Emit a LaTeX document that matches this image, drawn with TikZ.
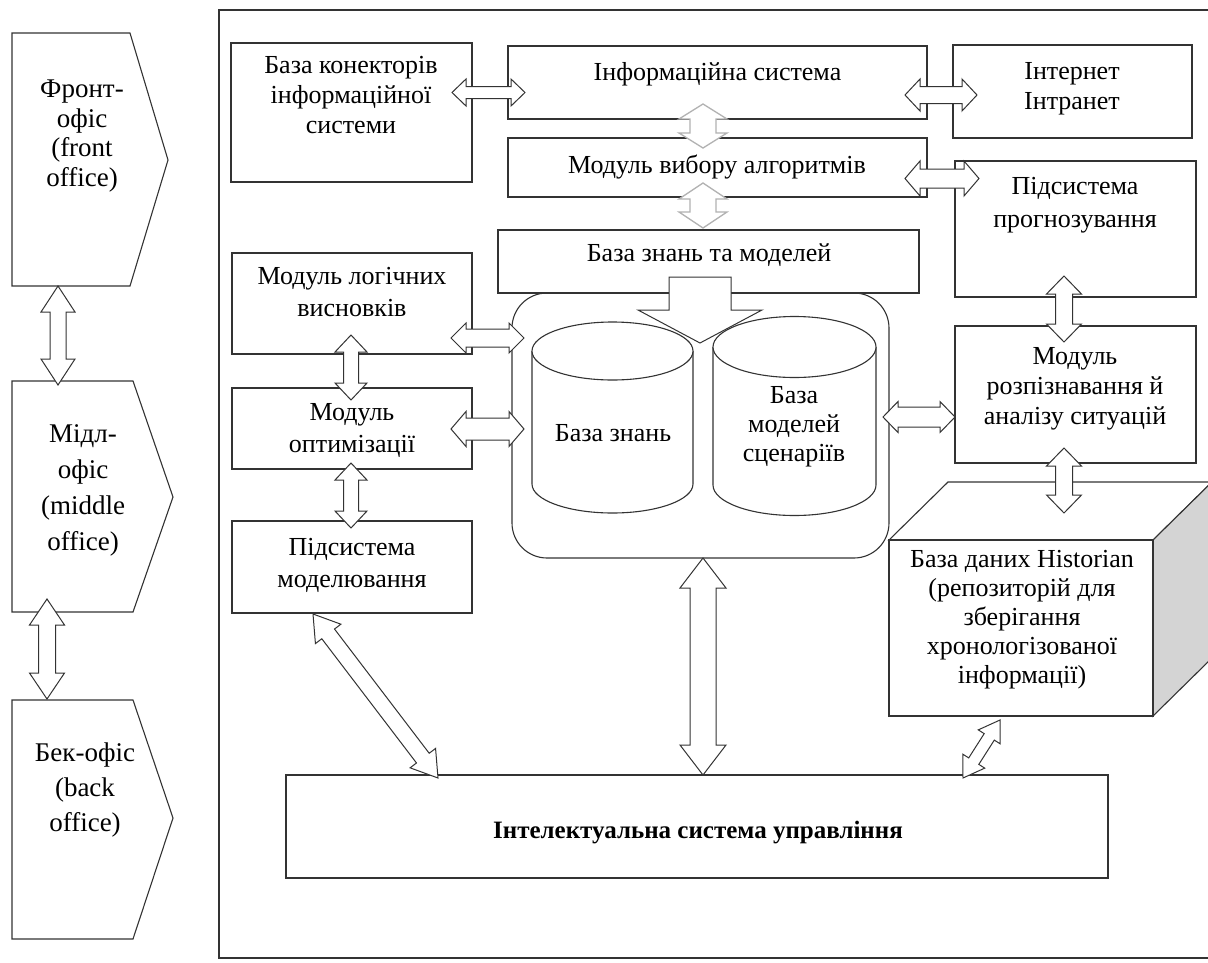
\documentclass[tikz,border=0pt]{standalone}
\usepackage{fontspec}
\setmainfont{Liberation Serif}
\usetikzlibrary{calc}
\tikzset{
 box/.style={draw=black!80, line width=1.1pt, fill=white, rectangle, inner sep=0pt},
 shp/.style={draw=black!80, line width=1.1pt, fill=white},
 lbl/.style={align=center, font=\fontsize{26}{30}\selectfont, inner sep=0pt},
 lblo/.style={align=center, inner sep=0pt},
 blk/.style={draw=black!80, line width=1pt, fill=white, line join=miter},
 gblk/.style={draw=black!30, line width=1.3pt, fill=white, line join=miter},
}
\newcommand\dblarr[6][blk]{%
 \coordinate (h1) at ($(#2)!#6pt!(#3)$);
 \coordinate (h2) at ($(#3)!#6pt!(#2)$);
 \draw[#1] (#2) -- ($(h1)!#5pt!90:(#3)$) -- ($(h1)!#4pt!90:(#3)$) -- ($(h2)!#4pt!-90:(#2)$) -- ($(h2)!#5pt!-90:(#2)$) -- (#3) -- ($(h2)!#5pt!90:(#2)$) -- ($(h2)!#4pt!90:(#2)$) -- ($(h1)!#4pt!-90:(#3)$) -- ($(h1)!#5pt!-90:(#3)$) -- cycle;}
\begin{document}
\begin{tikzpicture}[x=1pt,y=-1pt]
\useasboundingbox (0,0) rectangle (1208,962);
\clip (0,0) rectangle (1208,962);
\fill[white] (0,0) rectangle (1208,962);
% outer frame
\draw[line width=1.1pt, draw=black!80] (219,10) rectangle (1216,958);
% left chevrons
\draw[shp] (12,33) -- (130,33) -- (168,160) -- (130,286) -- (12,286) -- cycle;
\draw[shp] (12,381) -- (133,381) -- (173,497) -- (133,612) -- (12,612) -- cycle;
\draw[shp] (12,700) -- (133,700) -- (173,818) -- (133,939) -- (12,939) -- cycle;
\node[lblo, font=\fontsize{27}{29.7}\selectfont] (front) at (82,136) {Фронт-\\офіс\\(front\\office)};
\node[lblo, font=\fontsize{27}{36}\selectfont] (middle) at (83,490) {Мідл-\\офіс\\(middle\\office)};
\node[lblo, font=\fontsize{27}{35}\selectfont] (back) at (85,790) {Бек-офіс\\(back\\office)};
% boxes
\node[box, minimum width=241pt, minimum height=139pt] (kon) at (351.5,112.5) {};
\node[box, minimum width=419pt, minimum height=73pt] (info) at (717.5,82.5) {};
\node[box, minimum width=239pt, minimum height=93pt] (inet) at (1072.5,91.5) {};
\node[box, minimum width=419pt, minimum height=59pt] (alg) at (717.5,167.5) {};
\node[box, minimum width=241pt, minimum height=136pt] (prog) at (1075.5,229) {};
\node[box, rounded corners=35pt, minimum width=377pt, minimum height=265pt] (kb) at (700.5,425.5) {};
\node[box, minimum width=421pt, minimum height=63pt] (bzm) at (708.5,261.5) {};
\node[box, minimum width=240pt, minimum height=101pt] (log) at (352,303.5) {};
\node[box, minimum width=240pt, minimum height=81pt] (opt) at (352,428.5) {};
\node[box, minimum width=240pt, minimum height=92pt] (mod) at (352,567) {};
\node[box, minimum width=241pt, minimum height=137pt] (rozp) at (1075.5,394.5) {};
\node[box, minimum width=822pt, minimum height=103pt] (isu) at (697,826.5) {};
% 3D box Historian
\draw[shp] (889,540) -- (948,482) -- (1212,482) -- (1153,540) -- cycle;
\draw[shp, fill=black!17] (1153,540) -- (1212,482) -- (1212,658) -- (1153,716) -- cycle;
\node[box, minimum width=264pt, minimum height=176pt] (hist) at (1021,628) {};
% cylinders
\draw[shp] (532,351) -- (532,484) arc[start angle=180, end angle=360, x radius=80.5pt, y radius=29pt] -- (693,351);
\draw[shp] (612.5,351) ellipse [x radius=80.5pt, y radius=29pt];
\draw[shp] (713,347) -- (713,485) arc[start angle=180, end angle=360, x radius=81.5pt, y radius=30.5pt] -- (876,347);
\draw[shp] (794.5,347) ellipse [x radius=81.5pt, y radius=30.5pt];
% big down arrow into the knowledge base
\draw[blk] (669,277) -- (731,277) -- (731,310) -- (762,310) -- (700,343) -- (638,310) -- (669,310) -- cycle;
% texts
\node[lbl] (kon-t) at (351,95) {База конекторів\\інформаційної\\системи};
\node[lbl] (info-t) at (717.5,74) {Інформаційна система};
\node[lbl] (inet-t) at (1072,89) {Інтернет\\Інтранет};
\node[lbl] (alg-t) at (717,167) {Модуль вибору алгоритмів};
\node[lbl, font=\fontsize{26}{33}\selectfont] (prog-t) at (1075,205) {Підсистема\\прогнозування};
\node[lbl] (bzm-t) at (709,255) {База знань та моделей};
\node[lbl, font=\fontsize{26}{32}\selectfont] (log-t) at (352,292) {Модуль логічних\\висновків};
\node[lbl, font=\fontsize{26}{32}\selectfont] (opt-t) at (352,430) {Модуль\\оптимізації};
\node[lbl, font=\fontsize{26}{32}\selectfont] (mod-t) at (352,565) {Підсистема\\моделювання};
\node[lbl] (rozp-t) at (1075,389) {Модуль\\розпізнавання й\\аналізу ситуацій};
\node[lbl, font=\fontsize{26}{29}\selectfont] (hist-t) at (1022,620) {База даних Historian\\(репозиторій для\\зберігання\\хронологізованої\\інформації)};
\node[lbl] (kz-t) at (613,433) {База знань};
\node[lbl, font=\fontsize{26}{29}\selectfont] (msc-t) at (794,427) {База\\моделей\\сценаріїв};
\node[lbl, font=\bfseries\fontsize{25}{30}\selectfont] (isu-t) at (698,833) {Інтелектуальна система управління};
% arrow end points
\coordinate (a1s) at (452,92.5); \coordinate (a1e) at (525,92.5);
\coordinate (a2s) at (905,95); \coordinate (a2e) at (977,95);
\coordinate (a3s) at (905,178.5); \coordinate (a3e) at (979,178.5);
\coordinate (a4s) at (703,104); \coordinate (a4e) at (703,148);
\coordinate (a5s) at (703,183); \coordinate (a5e) at (703,228);
\coordinate (a6s) at (1064,276); \coordinate (a6e) at (1064,342);
\coordinate (a7s) at (1064,448); \coordinate (a7e) at (1064,513);
\coordinate (a8s) at (883,417); \coordinate (a8e) at (955,417);
\coordinate (a9s) at (451,338); \coordinate (a9e) at (524,338);
\coordinate (a10s) at (451,429); \coordinate (a10e) at (524,429);
\coordinate (a11s) at (351,335); \coordinate (a11e) at (351,400);
\coordinate (a12s) at (351,463); \coordinate (a12e) at (351,528);
\coordinate (a13s) at (58,286); \coordinate (a13e) at (58,385);
\coordinate (a14s) at (47,599); \coordinate (a14e) at (47,699);
\coordinate (a15s) at (703,558); \coordinate (a15e) at (703,775);
\coordinate (a16s) at (313,614); \coordinate (a16e) at (438,778);
\coordinate (a17s) at (1000,720); \coordinate (a17e) at (963,778);
% block arrows
\dblarr{a1s}{a1e}{6}{13.5}{14}
\dblarr{a2s}{a2e}{8.5}{16}{15}
\dblarr{a3s}{a3e}{9.5}{17.5}{15}
\dblarr[gblk]{a4s}{a4e}{13}{24}{15}
\dblarr[gblk]{a5s}{a5e}{13}{24}{16}
\dblarr{a6s}{a6e}{8.5}{17.5}{18}
\dblarr{a7s}{a7e}{8.5}{17.5}{18}
\dblarr{a8s}{a8e}{10}{15.5}{15}
\dblarr{a9s}{a9e}{9}{15}{15}
\dblarr{a10s}{a10e}{11}{17.5}{15}
\dblarr{a11s}{a11e}{7.5}{16}{17}
\dblarr{a12s}{a12e}{7.5}{16}{17}
\dblarr{a13s}{a13e}{8}{17}{26}
\dblarr{a14s}{a14e}{8.5}{17.5}{26}
\dblarr{a15s}{a15e}{13}{23}{30}
\dblarr{a16s}{a16e}{8}{16}{25}
\dblarr{a17s}{a17e}{6}{13}{20}
\end{tikzpicture}
\end{document}
